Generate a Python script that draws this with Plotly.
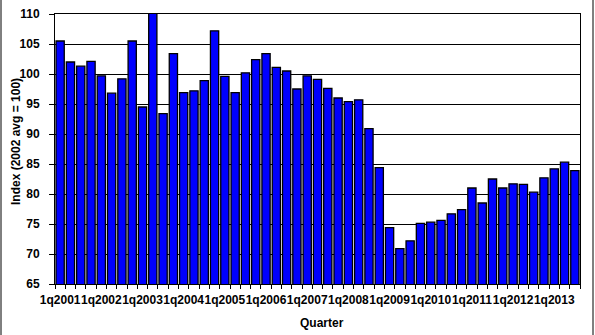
import plotly.graph_objects as go

quarters = [
    "1q2001", "2q2001", "3q2001", "4q2001",
    "1q2002", "2q2002", "3q2002", "4q2002",
    "1q2003", "2q2003", "3q2003", "4q2003",
    "1q2004", "2q2004", "3q2004", "4q2004",
    "1q2005", "2q2005", "3q2005", "4q2005",
    "1q2006", "2q2006", "3q2006", "4q2006",
    "1q2007", "2q2007", "3q2007", "4q2007",
    "1q2008", "2q2008", "3q2008", "4q2008",
    "1q2009", "2q2009", "3q2009", "4q2009",
    "1q2010", "2q2010", "3q2010", "4q2010",
    "1q2011", "2q2011", "3q2011", "4q2011",
    "1q2012", "2q2012", "3q2012", "4q2012",
    "1q2013", "2q2013", "3q2013",
]

index_values = [
    105.5, 102.0, 101.3, 102.1,
    99.7, 96.8, 99.2, 105.5,
    94.5, 111.5, 93.4, 103.4,
    96.9, 97.2, 98.9, 107.2,
    99.6, 96.9, 100.2, 102.4,
    103.4, 101.1, 100.5, 97.5,
    99.7, 99.1, 97.6, 96.0,
    95.4, 95.7, 90.9, 84.4,
    74.4, 70.9, 72.2, 75.1,
    75.3, 75.6, 76.7, 77.4,
    81.0, 78.5, 82.5, 81.0,
    81.7, 81.6, 80.3, 82.7,
    84.2, 85.3, 83.9,
]

y_ticks = [65, 70, 75, 80, 85, 90, 95, 100, 105, 110]

x_pos = list(range(len(quarters)))
label_pos = [i for i, q in enumerate(quarters) if q.startswith("1q")]
label_text = [quarters[i] for i in label_pos]

FONT = "Arial, Liberation Sans, sans-serif"
FS = 12

fig = go.Figure(
    go.Bar(
        x=x_pos,
        y=index_values,
        marker=dict(color="#0000FF", line=dict(color="black", width=1.3)),
        hovertext=quarters,
    )
)

W, H = 595, 335
L, R, T, B = 55, 15, 14, 51
pw, ph = W - L - R, H - T - B

def px_x(px):
    return (px - L) / pw

def px_y(py):
    return (H - B - py) / ph

fig.update_layout(
    width=W,
    height=H,
    margin=dict(l=L, r=R, t=T, b=B, autoexpand=False),
    paper_bgcolor="white",
    plot_bgcolor="white",
    bargap=0.2,
    showlegend=False,
    font=dict(family=FONT, color="black", size=FS, weight="bold"),
    xaxis=dict(
        range=[-0.5, len(quarters) - 0.5],
        tickmode="array",
        tickvals=label_pos,
        ticktext=label_text,
        tickangle=0,
        ticks="outside",
        ticklen=4,
        tickcolor="rgba(0,0,0,0)",
        ticklabelstandoff=1,
        tickfont=dict(family=FONT, size=FS, color="black", weight="bold"),
        showgrid=False,
        showline=True,
        linecolor="black",
        linewidth=1,
        mirror=True,
        zeroline=False,
        minor=dict(tickmode="linear", tick0=-0.5, dtick=1, ticks="outside",
                   ticklen=4, tickcolor="black", tickwidth=1, showgrid=False),
        automargin=False,
    ),
    yaxis=dict(
        range=[65, 110],
        tickmode="array",
        tickvals=y_ticks,
        ticks="outside",
        ticklen=5,
        tickcolor="black",
        tickfont=dict(family=FONT, size=FS, color="black", weight="bold"),
        ticklabelstandoff=7,
        showgrid=True,
        gridcolor="black",
        gridwidth=1,
        showline=True,
        linecolor="black",
        linewidth=1,
        mirror=True,
        zeroline=False,
        automargin=False,
    ),
    annotations=[
        dict(text="Index (2002 avg = 100)", xref="paper", yref="paper",
             x=px_x(16), y=px_y(142), xanchor="center", yanchor="middle",
             textangle=-90, showarrow=False,
             font=dict(family=FONT, size=FS, color="black", weight="bold")),
        dict(text="Quarter", xref="paper", yref="paper",
             x=px_x(322), y=px_y(323), xanchor="center", yanchor="middle",
             showarrow=False,
             font=dict(family=FONT, size=FS, color="black", weight="bold")),
    ],
    shapes=[
        dict(type="line", xref="paper", yref="paper", x0=px_x(1), x1=px_x(1),
             y0=px_y(0), y1=px_y(H), line=dict(color="black", width=1)),
        dict(type="line", xref="paper", yref="paper", x0=px_x(593), x1=px_x(593),
             y0=px_y(0), y1=px_y(H), line=dict(color="black", width=1)),
    ],
)

fig.write_html("out.html")
